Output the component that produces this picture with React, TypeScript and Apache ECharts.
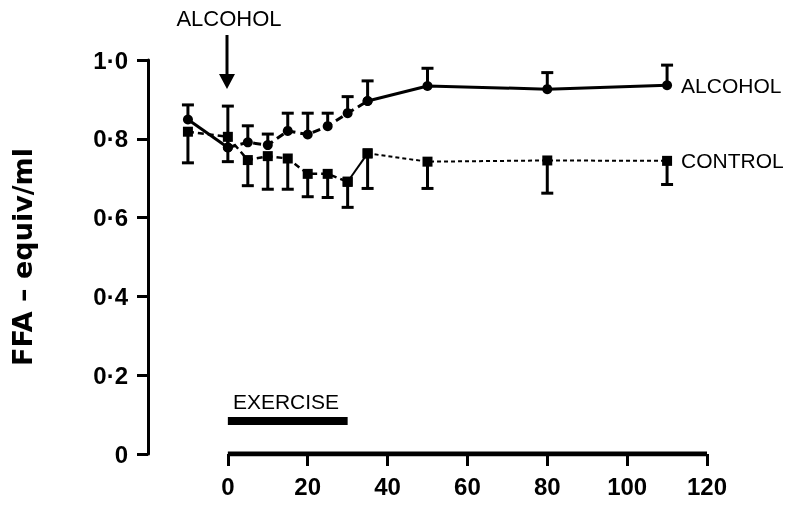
import React, { useEffect, useRef } from "react";
import * as echarts from "echarts";

const times = [-10, 0, 5, 10, 15, 20, 25, 30, 35, 50, 80, 110];
const alcohol = [0.849, 0.778, 0.791, 0.784, 0.82, 0.811, 0.832, 0.865, 0.896, 0.934, 0.926, 0.936];
const alcoholUpper = [0.886, 0.883, 0.833, 0.812, 0.865, 0.865, 0.865, 0.907, 0.947, 0.979, 0.968, 0.987];
const control = [0.818, 0.805, 0.746, 0.756, 0.75, 0.711, 0.711, 0.691, 0.763, 0.742, 0.745, 0.744];
const controlLower = [0.739, 0.742, 0.681, 0.672, 0.672, 0.653, 0.651, 0.626, 0.674, 0.674, 0.662, 0.684];
const xTicks = [0, 20, 40, 60, 80, 100, 120];
const exerciseSpan = [0, 30];
const exerciseLevel = 0.084;

const FONT = "'Liberation Sans', Arial, Helvetica, sans-serif";
const WIDE = "'DejaVu Sans', sans-serif";

function seg(vals: number[], from: number, to: number) {
  const out: number[][] = [];
  for (let i = from; i <= to; i++) out.push([times[i], vals[i]]);
  return out;
}

function errData(vals: number[], ends: number[]) {
  return times.map((t, i) => [t, vals[i], ends[i]]);
}

const errRender = (params: any, api: any) => {
  const x = api.value(0);
  const y = api.value(1);
  const e = api.value(2);
  const p0 = api.coord([x, y]);
  const p1 = api.coord([x, e]);
  const st = { stroke: "#000", lineWidth: 3 };
  return {
    type: "group",
    children: [
      { type: "line", shape: { x1: p0[0], y1: p0[1], x2: p1[0], y2: p1[1] }, style: st },
      { type: "line", shape: { x1: p1[0] - 6, y1: p1[1], x2: p1[0] + 6, y2: p1[1] }, style: st },
    ],
  };
};

export default function App() {
  const ref = useRef<HTMLDivElement>(null);
  useEffect(() => {
    if (!ref.current) return;
    const chart = echarts.init(ref.current, null, { renderer: "svg" });
    const lineBase = (name: string, data: number[][], width: number, type: any, symbol: string, size: number, z = 3) => ({
      name,
      type: "line",
      data,
      symbol,
      symbolSize: size,
      showSymbol: true,
      itemStyle: { color: "#000" },
      lineStyle: { color: "#000", width, type },
      z,
      silent: true,
    });
    const ctrlLast: any = lineBase("control-c", seg(control, 8, 11), 2, [4, 3], "rect", 10);
    ctrlLast.endLabel = {
      show: true,
      formatter: "CONTROL",
      distance: 14,
      color: "#000",
      fontFamily: FONT,
      fontSize: 21,
    };
    const alcLast: any = lineBase("alcohol-c", seg(alcohol, 8, 11), 3, "solid", "circle", 10);
    alcLast.endLabel = {
      show: true,
      formatter: "ALCOHOL",
      distance: 14,
      color: "#000",
      fontFamily: FONT,
      fontSize: 21,
    };
    chart.setOption({
      animation: false,
      grid: { left: 148, right: 86, top: 60, bottom: 56, outerBoundsMode: "none" } as any,
      xAxis: {
        type: "value",
        min: -20,
        max: 120,
        interval: 20,
        axisLine: { show: false },
        splitLine: { show: false },
        axisTick: { show: true, customValues: xTicks, length: 12, lineStyle: { color: "#000", width: 3 } },
        axisLabel: {
          customValues: xTicks,
          color: "#000",
          fontFamily: FONT,
          fontWeight: "bold",
          fontSize: 24,
          margin: 20,
        },
      },
      yAxis: {
        type: "value",
        min: 0,
        max: 1,
        interval: 0.2,
        name: "FFA \u2013 equiv/ml",
        nameLocation: "middle",
        nameGap: 112,
        nameRotate: 90,
        nameTextStyle: { color: "#000", fontFamily: WIDE, fontWeight: "bold", fontSize: 27 },
        axisLine: { show: true, onZero: false, lineStyle: { color: "#000", width: 3 } },
        splitLine: { show: false },
        axisTick: { show: true, length: 11, lineStyle: { color: "#000", width: 3 } },
        axisLabel: {
          color: "#000",
          fontFamily: FONT,
          fontWeight: "bold",
          fontSize: 24,
          margin: 20,
          formatter: (v: number) => (v === 0 ? "0" : v.toFixed(1).replace(".", "\u00b7")),
        },
      },
      graphic: [
        {
          type: "text",
          x: 229,
          y: 18,
          style: { text: "ALCOHOL", fill: "#000", font: `22px ${FONT}`, align: "center", verticalAlign: "middle" },
        },
        { type: "line", shape: { x1: 227, y1: 35, x2: 227, y2: 76 }, style: { stroke: "#000", lineWidth: 3 } },
        { type: "polygon", shape: { points: [[219, 74], [235, 74], [227, 89]] }, style: { fill: "#000" } },
        {
          type: "text",
          x: 286,
          y: 401,
          style: { text: "EXERCISE", fill: "#000", font: `21px ${FONT}`, align: "center", verticalAlign: "middle" },
        },
      ],
      series: [
        {
          type: "line",
          data: [[xTicks[0], 0], [xTicks[xTicks.length - 1], 0]],
          symbol: "none",
          lineStyle: { color: "#000", width: 5 },
          silent: true,
          z: 2,
        },
        {
          type: "line",
          data: exerciseSpan.map((t) => [t, exerciseLevel]),
          symbol: "none",
          lineStyle: { color: "#000", width: 8 },
          silent: true,
          z: 2,
        },
        {
          type: "custom",
          renderItem: errRender,
          data: errData(alcohol, alcoholUpper),
          silent: true,
          z: 2,
        },
        {
          type: "custom",
          renderItem: errRender,
          data: errData(control, controlLower),
          silent: true,
          z: 2,
        },
        lineBase("alcohol-a", seg(alcohol, 0, 1), 3, "solid", "circle", 10),
        lineBase("alcohol-b", seg(alcohol, 1, 8), 3, [8, 5], "circle", 10),
        alcLast,
        lineBase("control-a", seg(control, 0, 7), 2.5, [6, 4], "rect", 10),
        lineBase("control-b", seg(control, 7, 8), 2, "solid", "rect", 10),
        ctrlLast,
      ],
    });
    return () => chart.dispose();
  }, []);
  return <div ref={ref} style={{ position: "fixed", left: 0, top: 0, width: 793, height: 510 }} />;
}
